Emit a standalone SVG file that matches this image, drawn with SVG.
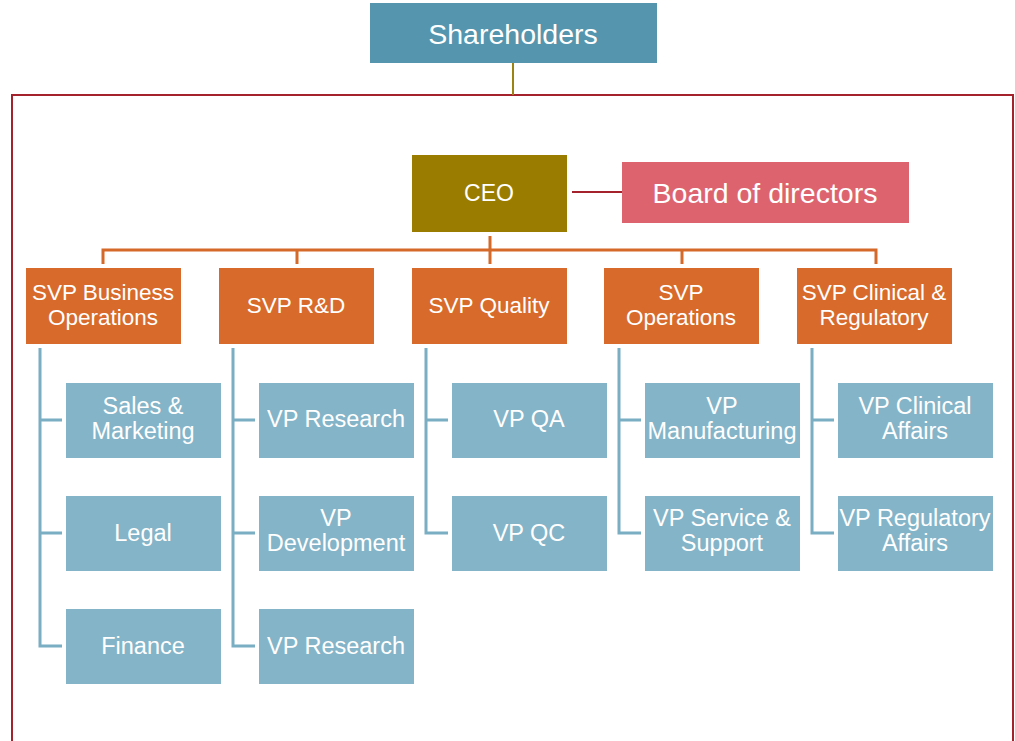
<svg xmlns="http://www.w3.org/2000/svg" width="1015" height="741" viewBox="0 0 1015 741">
<style>
text{font-family:"Liberation Sans",Arial,sans-serif;fill:#ffffff;text-anchor:middle}
.svp rect{fill:#d86a2b}
.svp text{font-size:22.5px}
.vp rect{fill:#84b4c8}
.vp text{font-size:23.5px}
.oc{stroke:#d4692a;stroke-width:3;fill:none}
.bc{stroke:#7aaec3;stroke-width:3;fill:none}
</style>
<rect x="0" y="0" width="1015" height="741" fill="#ffffff"/>
<rect x="12" y="95" width="1001" height="660" fill="none" stroke="#a3222c" stroke-width="2"/>
<g id="connectors">
<line x1="513" y1="63" x2="513" y2="95" stroke="#9c8414" stroke-width="2"/>
<line x1="572" y1="192" x2="622" y2="192" stroke="#a3222c" stroke-width="2"/>
<path class="oc" d="M490 236V264M103 264V250H876V264M297 250V264M682 250V264"/>
<path class="bc" d="M40 348V646H62M40 420H62M40 533H62"/>
<path class="bc" d="M233 348V646H255M233 420H255M233 533H255"/>
<path class="bc" d="M426 348V533H448M426 420H448"/>
<path class="bc" d="M619 348V533H641M619 420H641"/>
<path class="bc" d="M812 348V533H834M812 420H834"/>
</g>
<g id="shareholders"><rect x="370" y="3" width="287" height="60" fill="#5595ae"/><text x="513" y="44" font-size="28.5">Shareholders</text></g>
<g id="ceo"><rect x="412" y="155" width="155" height="77" fill="#9a7d00"/><text x="489" y="201" font-size="23">CEO</text></g>
<g id="board"><rect x="622" y="162" width="287" height="61" fill="#dd646f"/><text x="765" y="203" font-size="28.5">Board of directors</text></g>
<g id="svp-business" class="svp"><rect x="26" y="268" width="155" height="76"/><text x="103" y="300">SVP Business</text><text x="103" y="325">Operations</text></g>
<g id="svp-rd" class="svp"><rect x="219" y="268" width="155" height="76"/><text x="296" y="313">SVP R&amp;D</text></g>
<g id="svp-quality" class="svp"><rect x="412" y="268" width="155" height="76"/><text x="489" y="313">SVP Quality</text></g>
<g id="svp-operations" class="svp"><rect x="604" y="268" width="155" height="76"/><text x="681" y="300">SVP</text><text x="681" y="325">Operations</text></g>
<g id="svp-clinical" class="svp"><rect x="797" y="268" width="155" height="76"/><text x="874" y="300">SVP Clinical &amp;</text><text x="874" y="325">Regulatory</text></g>
<g id="sales" class="vp"><rect x="66" y="383" width="155" height="75"/><text x="143" y="414">Sales &amp;</text><text x="143" y="439">Marketing</text></g>
<g id="legal" class="vp"><rect x="66" y="496" width="155" height="75"/><text x="143" y="541">Legal</text></g>
<g id="finance" class="vp"><rect x="66" y="609" width="155" height="75"/><text x="143" y="654">Finance</text></g>
<g id="vp-research-1" class="vp"><rect x="259" y="383" width="155" height="75"/><text x="336" y="427">VP Research</text></g>
<g id="vp-development" class="vp"><rect x="259" y="496" width="155" height="75"/><text x="336" y="526">VP</text><text x="336" y="551">Development</text></g>
<g id="vp-research-2" class="vp"><rect x="259" y="609" width="155" height="75"/><text x="336" y="654">VP Research</text></g>
<g id="vp-qa" class="vp"><rect x="452" y="383" width="155" height="75"/><text x="529" y="427">VP QA</text></g>
<g id="vp-qc" class="vp"><rect x="452" y="496" width="155" height="75"/><text x="529" y="541">VP QC</text></g>
<g id="vp-manufacturing" class="vp"><rect x="645" y="383" width="155" height="75"/><text x="722" y="414">VP</text><text x="722" y="439">Manufacturing</text></g>
<g id="vp-service" class="vp"><rect x="645" y="496" width="155" height="75"/><text x="722" y="526">VP Service &amp;</text><text x="722" y="551">Support</text></g>
<g id="vp-clinical" class="vp"><rect x="838" y="383" width="155" height="75"/><text x="915" y="414">VP Clinical</text><text x="915" y="439">Affairs</text></g>
<g id="vp-regulatory" class="vp"><rect x="838" y="496" width="155" height="75"/><text x="915" y="526">VP Regulatory</text><text x="915" y="551">Affairs</text></g>
</svg>
